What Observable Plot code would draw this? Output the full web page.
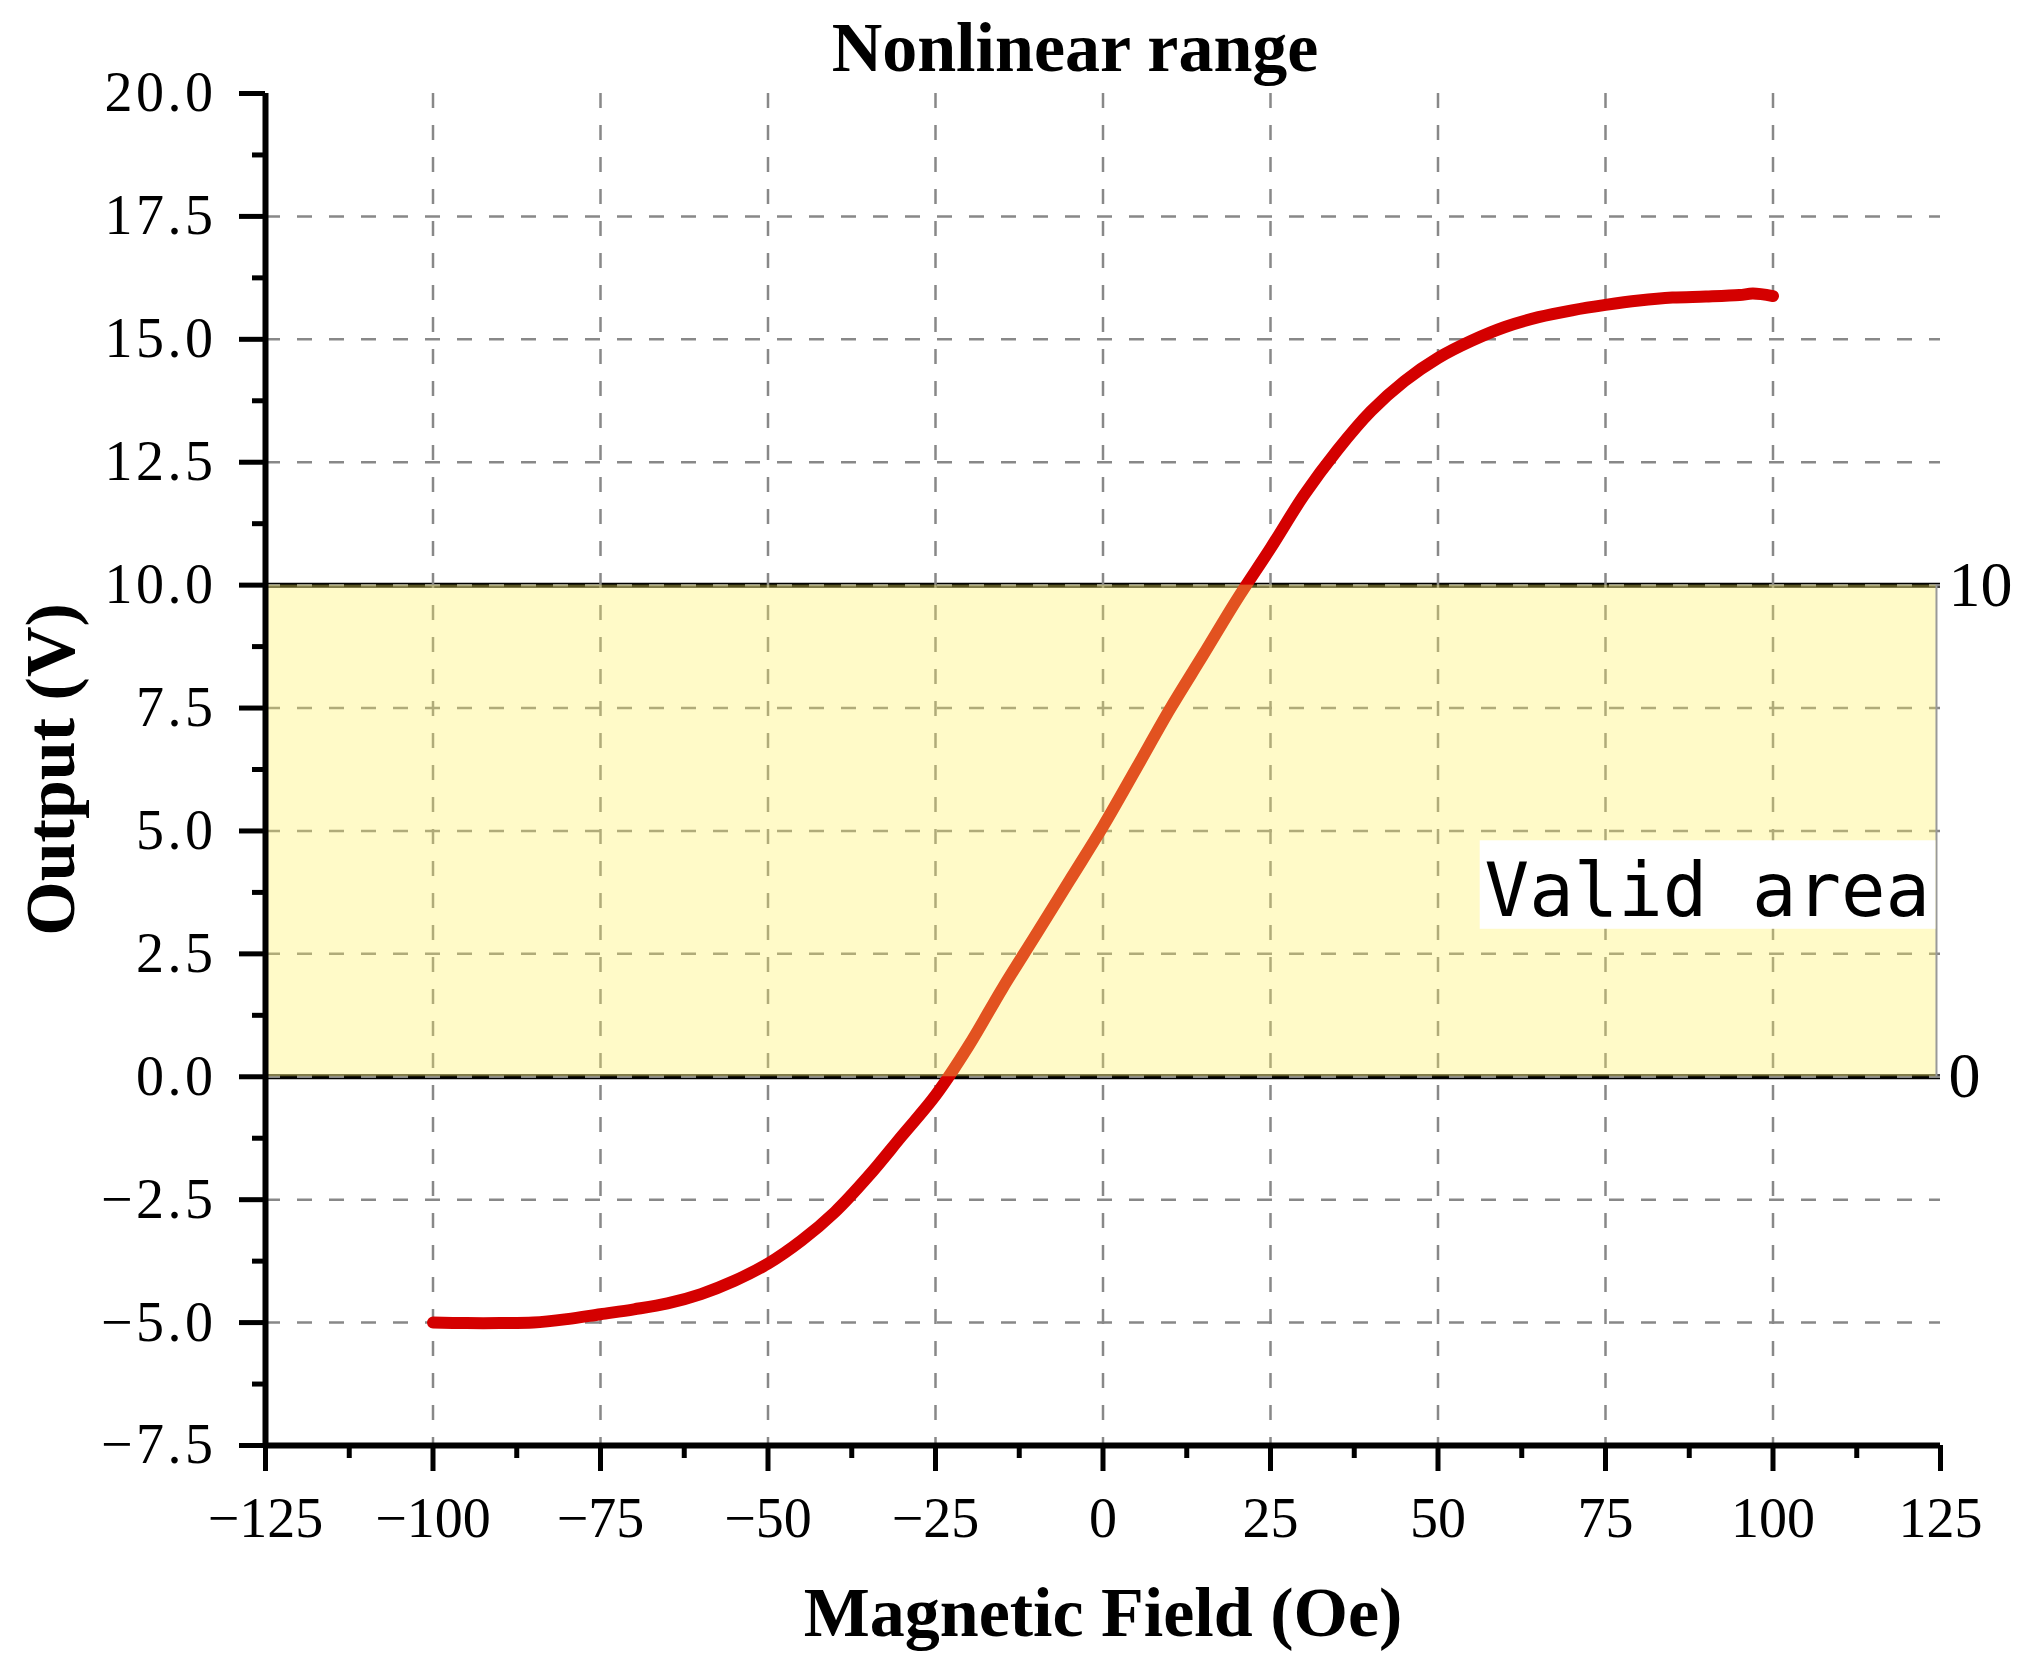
<!DOCTYPE html>
<html><head><meta charset="utf-8">
<script src="https://cdn.jsdelivr.net/npm/d3@7"></script>
<script src="https://cdn.jsdelivr.net/npm/@observablehq/plot@0.6"></script>
<style>
body{margin:0;background:#fff}
g[aria-label="y-axis tick label"] text{letter-spacing:3.5px}
</style>
</head><body><div id="chart"></div>
<script>
// ---- data ----
const fieldOe = [-100,-95,-90,-85,-80,-75,-70,-65,-60,-55,-50,-45,-40,-35,-30,-25,-20,-15,-10,-5,0,5,10,15,20,25,30,35,40,45,50,55,60,65,70,75,80,85,90,95,97,100];
const outputV = [-5.00,-5.01,-5.01,-5.00,-4.93,-4.83,-4.73,-4.61,-4.42,-4.15,-3.80,-3.33,-2.75,-2.02,-1.20,-0.38,0.64,1.80,2.89,3.99,5.09,6.28,7.48,8.59,9.71,10.75,11.83,12.75,13.54,14.15,14.62,14.97,15.25,15.45,15.59,15.70,15.79,15.85,15.87,15.90,15.93,15.88];

const xMajorTicks = [-125,-100,-75,-50,-25,0,25,50,75,100,125];
const xMinorTicks = [-112.5,-87.5,-62.5,-37.5,-12.5,12.5,37.5,62.5,87.5,112.5];
const yMajorTicks = [-7.5,-5,-2.5,0,2.5,5,7.5,10,12.5,15,17.5,20];
const yMinorTicks = [-6.25,-3.75,-1.25,1.25,3.75,6.25,8.75,11.25,13.75,16.25,18.75];
const xGrid = [-100,-75,-50,-25,0,25,50,75,100];
const yGrid = [-5,-2.5,0,2.5,5,7.5,10,12.5,15,17.5];

const validRange = [0, 10];
const validLabels = ["0", "10"];
const bandX = [-125, 124.4];
const labelText = "Valid area";
const labelPos = {x: 90.2, y: 3.28};
const labelBox = {x1: 56.3, x2: 124.3, y1: 3.0, y2: 4.8};

const titleText = "Nonlinear range";
const xLabel = "Magnetic Field (Oe)";
const yLabel = "Output (V)";

const curve = fieldOe.map((x, i) => ({x, y: outputV[i]}));
const band = [{x1: bandX[0], x2: bandX[1], y1: validRange[0], y2: validRange[1]}];

const gridStyle = {stroke: "#888", strokeOpacity: 1, strokeWidth: 2.5, strokeDasharray: "15,17"};

const chart = Plot.plot({
  width: 2028,
  height: 1670,
  marginLeft: 265,
  marginRight: 88,
  marginTop: 93,
  marginBottom: 225,
  style: {fontFamily: "Liberation Serif", background: "white", color: "black"},
  x: {domain: [-125, 125]},
  y: {domain: [-7.5, 20]},
  marks: [
    Plot.ruleY(validRange, {stroke: "black", strokeWidth: 5}),
    Plot.gridX(xGrid, gridStyle),
    Plot.gridY(yGrid, gridStyle),
    Plot.line(curve, {x: "x", y: "y", stroke: "#d40000", strokeWidth: 12, curve: "catmull-rom", strokeLinecap: "round", strokeLinejoin: "round"}),
    Plot.rect(band, {x1: "x1", x2: "x2", y1: "y1", y2: "y2", fill: "rgb(255,240,93)", fillOpacity: 0.34}),
    Plot.ruleX([bandX[1]], {y1: validRange[0], y2: validRange[1], stroke: "#999", strokeWidth: 2}),
    Plot.rect([labelBox], {x1: "x1", x2: "x2", y1: "y1", y2: "y2", fill: "white"}),
    Plot.text([labelText], {x: labelPos.x, y: labelPos.y, text: d => d, fontFamily: "DejaVu Sans Mono", fontSize: 74, lineAnchor: "bottom", fill: "black"}),
    Plot.text(validLabels, {x: 125, y: validRange, text: d => d, dx: 8, textAnchor: "start", fontSize: 64, fill: "black"}),
    Plot.axisX(xMajorTicks, {tickSize: 26, tickPadding: 26, strokeWidth: 5, fontSize: 56, tickFormat: d3.format("d"), label: null}),
    Plot.axisX(xMinorTicks, {tickSize: 13, text: null, strokeWidth: 5, label: null}),
    Plot.axisY(yMajorTicks, {tickSize: 26, tickPadding: 23, strokeWidth: 5, fontSize: 56, tickFormat: d3.format(".1f"), label: null}),
    Plot.axisY(yMinorTicks, {tickSize: 13, text: null, strokeWidth: 5, label: null}),
    Plot.ruleX([-125], {stroke: "black", strokeWidth: 6}),
    Plot.ruleY([-7.5], {stroke: "black", strokeWidth: 6}),
    Plot.text([titleText], {text: d => d, frameAnchor: "top", dx: -28, dy: -23, lineAnchor: "bottom", fontSize: 70, fontWeight: "bold", fill: "black"}),
    Plot.text([xLabel], {text: d => d, frameAnchor: "bottom", dy: 190, lineAnchor: "bottom", fontSize: 70, fontWeight: "bold", fill: "black"}),
    Plot.text([yLabel], {text: d => d, frameAnchor: "left", dx: -192, rotate: -90, textAnchor: "middle", lineAnchor: "bottom", fontSize: 70, fontWeight: "bold", fill: "black"})
  ]
});
document.getElementById("chart").appendChild(chart);
</script>
</body></html>
